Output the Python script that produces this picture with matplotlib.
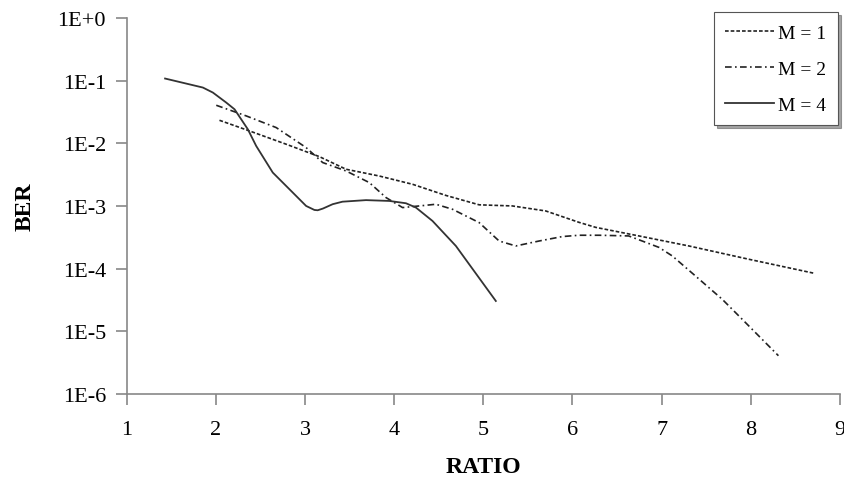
import math
import matplotlib.pyplot as plt
from matplotlib.ticker import FixedLocator, FuncFormatter

plt.rcParams['font.family'] = ['Liberation Serif', 'DejaVu Serif']

# values
ratio_m1 = [2.04, 2.377, 2.79, 3.16, 3.46, 3.833, 4.206, 4.58, 4.953, 5.326, 5.7,
            6.073, 6.26, 6.745, 7.305, 7.98, 8.70]
ber_m1 = [10 ** v for v in [-1.63, -1.80, -2.013, -2.21, -2.412, -2.52, -2.652, -2.83,
                            -2.98, -2.998, -3.078, -3.26, -3.34, -3.477, -3.637, -3.85, -4.07]]

ratio_m2 = [2.004, 2.34, 2.676, 3.012, 3.198, 3.46, 3.721, 3.908, 4.094, 4.281, 4.468,
            4.654, 4.953, 5.177, 5.364, 5.625, 5.886, 6.073, 6.3, 6.63, 6.78, 6.97, 7.12,
            7.38, 7.68, 7.94, 8.31]
ber_m2 = [10 ** v for v in [-1.39, -1.56, -1.746, -2.066, -2.305, -2.439, -2.625, -2.864,
                            -3.024, -2.998, -2.971, -3.051, -3.264, -3.558, -3.637, -3.558,
                            -3.487, -3.466, -3.466, -3.477, -3.557, -3.66, -3.797, -4.117,
                            -4.489, -4.86, -5.39]]

ratio_m4 = [1.43, 1.854, 1.966, 2.116, 2.209, 2.358, 2.452, 2.638, 2.862, 3.012, 3.105,
            3.142, 3.2, 3.31, 3.42, 3.684, 3.945, 4.132, 4.244, 4.43, 4.692, 5.14]
ber_m4 = [10 ** v for v in [-0.963, -1.107, -1.187, -1.347, -1.454, -1.773, -2.04, -2.465,
                            -2.784, -2.998, -3.062, -3.067, -3.04, -2.97, -2.93, -2.905,
                            -2.918, -2.955, -3.024, -3.238, -3.637, -4.516]]

y_ticks = [1e0, 1e-1, 1e-2, 1e-3, 1e-4, 1e-5, 1e-6]
x_ticks = [1, 2, 3, 4, 5, 6, 7, 8, 9]


def sci_label(v, pos):
    e = round(math.log10(v))
    return '1E+0' if e >= 0 else '1E%d' % e


fig = plt.figure(figsize=(8.45, 4.81), dpi=100)
ax = fig.add_axes([0.150, 0.179, 0.844, 0.781])

ax.plot(ratio_m1, ber_m1, color='#222222', lw=1.2, linestyle=(0, (2.2, 1.2)), label='M = 1')
ax.plot(ratio_m2, ber_m2, color='#222222', lw=1.2, linestyle=(0, (4, 2, 1, 2)), label='M = 2')
ax.plot(ratio_m4, ber_m4, color='#333333', lw=1.3, linestyle='-', label='M = 4')

ax.set_yscale('log')
ax.set_xlim(1, 9)
ax.set_ylim(1e-6, 1)
ax.yaxis.set_major_locator(FixedLocator(y_ticks))
ax.yaxis.set_minor_locator(FixedLocator([]))
ax.yaxis.set_major_formatter(FuncFormatter(sci_label))
ax.xaxis.set_major_locator(FixedLocator(x_ticks))

for s in ['top', 'right']:
    ax.spines[s].set_visible(False)
for s in ['left', 'bottom']:
    ax.spines[s].set_color('#888888')
    ax.spines[s].set_linewidth(1.2)
ax.tick_params(axis='both', direction='out', length=8, width=1.2, color='#888888',
               labelsize=16)
ax.tick_params(axis='x', pad=11)
ax.tick_params(axis='y', pad=7)

ax.set_xlabel('RATIO', fontsize=17, fontweight='bold', labelpad=12)
ax.set_ylabel('BER', fontsize=17, fontweight='bold', labelpad=16)

leg = ax.legend(loc='upper right', bbox_to_anchor=(0.997, 1.016), borderaxespad=0,
                fontsize=14, frameon=True, fancybox=False, shadow=True,
                handlelength=2.5, handletextpad=0.2, labelspacing=0.95, borderpad=0.6)
leg.get_frame().set_edgecolor('#555555')
leg.get_frame().set_linewidth(0.8)

fig.savefig('out.png', dpi=100)
